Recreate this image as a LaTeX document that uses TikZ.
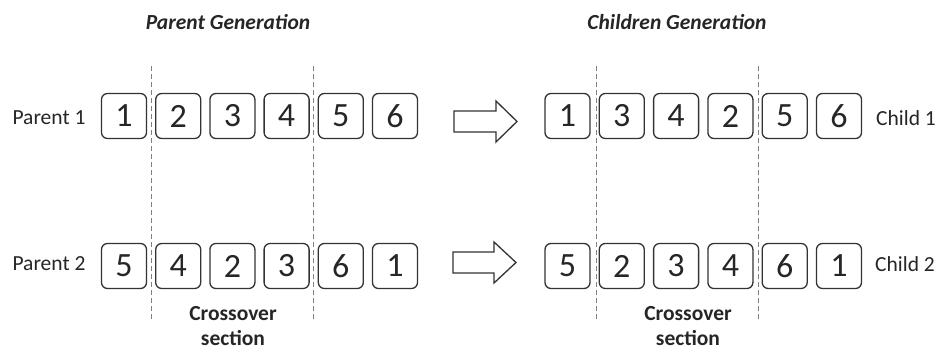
\documentclass[tikz,border=0pt]{standalone}
\usepackage{fontspec}
\setmainfont{Carlito}
\begin{document}
\begin{tikzpicture}[x=1pt,y=-1pt,
  gene/.style={draw=black!80, line width=1.3pt, rounded corners=6pt,
    minimum width=45pt, minimum height=45pt, inner sep=0pt,
    font=\fontsize{34}{34}\selectfont, text=black!85},
  lbl/.style={font=\fontsize{21.5}{24}\selectfont, text=black!85, inner sep=0pt},
  head/.style={font=\fontsize{21.5}{24}\selectfont\bfseries\itshape, text=black!85, inner sep=0pt},
  sect/.style={font=\fontsize{21.5}{25}\selectfont\bfseries, text=black!85, align=center, inner sep=0pt},
  cut/.style={draw=black!50, line width=0.8pt, dash pattern=on 5pt off 3pt},
  bigarrow/.style={draw=black!80, line width=1.3pt, fill=white, line join=miter}
]
\useasboundingbox (0,0) rectangle (940,352);

% headings
\node[head] (hp) at (228,22) {Parent Generation};
\node[head] (hc) at (677,22) {Children Generation};

% parent chromosomes
\foreach \v [count=\i] in {1,2,3,4,5,6}
  \node[gene] (pa\i) at ({124+54.2*(\i-1)},116) {\v};
\foreach \v [count=\i] in {5,4,2,3,6,1}
  \node[gene] (pb\i) at ({124+54.2*(\i-1)},266) {\v};

% child chromosomes
\foreach \v [count=\i] in {1,3,4,2,5,6}
  \node[gene] (ca\i) at ({567.5+54.3*(\i-1)},116) {\v};
\foreach \v [count=\i] in {5,2,3,4,6,1}
  \node[gene] (cb\i) at ({567.5+54.3*(\i-1)},266) {\v};

% row labels
\node[lbl] (lp1) at (49,118) {Parent 1};
\node[lbl] (lp2) at (49,264) {Parent 2};
\node[lbl, anchor=west] (lc1) at (876,118) {Child 1};
\node[lbl, anchor=west] (lc2) at (875,264) {Child 2};

% cut points
\coordinate (lt1) at (151,66);  \coordinate (lb1) at (151,321);
\coordinate (lt2) at (313,66);  \coordinate (lb2) at (313,321);
\coordinate (rt1) at (596,66);  \coordinate (rb1) at (596,321);
\coordinate (rt2) at (758,66);  \coordinate (rb2) at (758,321);
\draw[cut] (lt1) -- (lb1);
\draw[cut] (lt2) -- (lb2);
\draw[cut] (rt1) -- (rb1);
\draw[cut] (rt2) -- (rb2);

% crossover section labels
\node[sect] (sl) at (233,326) {Crossover\\section};
\node[sect] (sr) at (688,326) {Crossover\\section};

% block arrows
\draw[bigarrow] (454,111) -- (496,111) -- (496,101) -- (517,121.5) -- (496,142) -- (496,132) -- (454,132) -- cycle;
\draw[bigarrow] (453,252) -- (494,252) -- (494,242) -- (516,262.5) -- (494,283) -- (494,273) -- (453,273) -- cycle;
\end{tikzpicture}
\end{document}
